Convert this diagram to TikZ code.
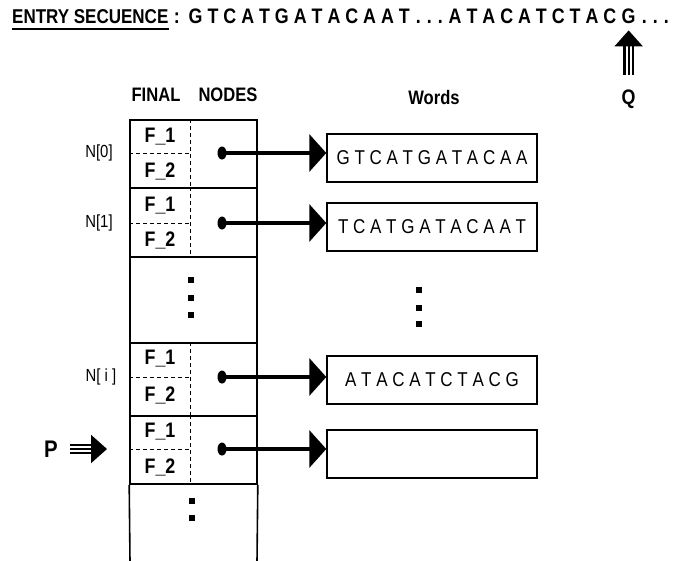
\documentclass[tikz,border=0pt]{standalone}
\usepackage{fontspec}
\setmainfont{Liberation Sans}
\newfontfamily\narrowsans[FakeStretch=0.85]{Liberation Sans}
\usetikzlibrary{arrows.meta,positioning,shapes.geometric}

\newcommand{\seqdots}{\hspace{6pt}.\hspace{6pt}.\hspace{6pt}.}

\tikzset{
  slot/.style={draw,line width=1.6pt,minimum width=127pt,inner sep=0pt},
  wordbox/.style={draw,line width=1.4pt,minimum width=210pt,minimum height=48pt,
    inner sep=0pt,font=\narrowsans\fontsize{20}{22}\selectfont},
  field/.style={inner sep=0pt,font=\narrowsans\fontsize{21}{22}\selectfont\bfseries},
  idx/.style={inner sep=0pt,font=\narrowsans\fontsize{17.5}{20}\selectfont},
  head/.style={inner sep=0pt,font=\narrowsans\fontsize{19.5}{22}\selectfont\bfseries},
  seqtext/.style={anchor=base west,inner sep=0pt,font=\narrowsans\fontsize{21}{24}\selectfont\bfseries},
  divline/.style={line width=1pt,dash pattern=on 4pt off 3pt},
  bullet/.style={ellipse,fill,inner sep=0pt,minimum width=9pt,minimum height=13pt},
  link/.style={line width=3.5pt,-{Triangle[length=17pt,width=37pt]}},
  triple/.style={line width=2.2pt,double distance=6pt},
  tiphead/.style={line width=2.2pt,-{Triangle[length=16pt,width=28pt]}},
  dotsq/.style={fill,minimum size=6pt,inner sep=0pt},
}

\begin{document}
\begin{tikzpicture}[x=1pt,y=-1pt]
    \useasboundingbox (0,0) rectangle (684,560);
    % entry sequence
    \node[anchor=base west,inner sep=0pt,font=\narrowsans\fontsize{20}{22}\selectfont\bfseries]
      (title) at (12,23) {ENTRY SECUENCE};
    \draw[line width=1.6pt] ([yshift=-6pt]title.base west) -- ([yshift=-6pt]title.base east);
    \node[seqtext] (seqa) at ([xshift=5pt]title.base east)
      {:\hspace{9pt}G T C A T G A T A C A A T\seqdots\hspace{6pt}A T A C A T C T A C};
    \node[seqtext] (g) at ([xshift=5pt]seqa.base east) {G};
    \node[seqtext] (seqb) at (g.base east) {\seqdots};
    % Q pointer
    \node[inner sep=0pt,font=\narrowsans\fontsize{21}{22}\selectfont\bfseries] (q) at (g.center |- 0,99) {Q};
    \coordinate (qfoot) at (g.center |- 0,75);
    \draw[triple,shorten >=16pt] (qfoot) -- ([yshift=-7pt]g.south);
    \draw[tiphead] (qfoot) -- ([yshift=-7pt]g.south);
    % headers
    \node[head] (final) at (156,95) {FINAL};
    \node[head] (nodes) at (228,95) {NODES};
    \node[head] (words) at (434,98) {Words};
    % final nodes table
    \coordinate (sep) at (190,0);
    \node[slot,minimum height=68pt] (row0) at (193.5,154) {};
    \node[slot,minimum height=69pt] (row1) at (193.5,222.5) {};
    \node[slot,minimum height=86pt] (rowgap) at (193.5,300) {};
    \node[slot,minimum height=73pt] (rowi) at (193.5,379.5) {};
    \node[slot,minimum height=68pt] (rowp) at (193.5,450) {};
    \draw[line width=1.6pt] (rowp.south west) -- (130,562);
    \draw[line width=1.6pt] (rowp.south east) -- (257,562);
    % bullets
    \node[bullet] (b0) at (222,153) {};
    \node[bullet] (b1) at (222,223) {};
    \node[bullet] (bi) at (222,377) {};
    \node[bullet] (bp) at (222,449) {};
    % dashed fields
    \draw[divline] (row0.north -| sep) -- (row0.south -| sep);
    \draw[divline] (row1.north -| sep) -- (row1.south -| sep);
    \draw[divline] (rowi.north -| sep) -- (rowi.south -| sep);
    \draw[divline] (rowp.north -| sep) -- (rowp.south -| sep);
    \draw[divline] (row0.west |- b0) -- (sep |- b0);
    \draw[divline] (row1.west |- b1) -- (sep |- b1);
    \draw[divline] (rowi.west |- bi) -- (sep |- bi);
    \draw[divline] (rowp.west |- bp) -- (sep |- bp);
    \node[field] (f01) at (160,137) {F\_1};
    \node[field] (f02) at (160,171) {F\_2};
    \node[field] (f11) at (160,206) {F\_1};
    \node[field] (f12) at (160,240) {F\_2};
    \node[field] (fi1) at (160,359) {F\_1};
    \node[field] (fi2) at (160,395) {F\_2};
    \node[field] (fp1) at (160,432) {F\_1};
    \node[field] (fp2) at (160,467) {F\_2};
    % indices
    \node[idx] (n0) at (99,153) {N[0]};
    \node[idx] (n1) at (99,223) {N[1]};
    \node[idx] (ni) at (101,377) {N[ i ]};
    % P pointer
    \node[inner sep=0pt,font=\narrowsans\fontsize{24}{26}\selectfont\bfseries] (p) at (51,449) {P};
    \coordinate (ptip) at (107,449);
    \draw[triple,shorten >=14pt] ([xshift=12pt]p.east) -- (ptip);
    \draw[tiphead] ([xshift=12pt]p.east) -- (ptip);
    % words
    \node[wordbox] (w0) at (432,158) {G T C A T G A T A C A A};
    \node[wordbox] (w1) at (432,227) {T C A T G A T A C A A T};
    \node[wordbox] (wi) at (432,380) {A T A C A T C T A C G};
    \node[wordbox] (wp) at (432,454) {};
    \draw[link] (b0.center) -- (w0.west |- b0.center);
    \draw[link] (b1.center) -- (w1.west |- b1.center);
    \draw[link] (bi.center) -- (wi.west |- bi.center);
    \draw[link] (bp.center) -- (wp.west |- bp.center);
    % dots
    \node[dotsq] (d1) at (191,280) {};
    \node[dotsq] (d2) at (191,298) {};
    \node[dotsq] (d3) at (191,315) {};
    \node[dotsq] (e1) at (419,290) {};
    \node[dotsq] (e2) at (419,308) {};
    \node[dotsq] (e3) at (419,324) {};
    \node[dotsq] (c1) at (192,501) {};
    \node[dotsq] (c2) at (192,518) {};
\end{tikzpicture}
\end{document}
